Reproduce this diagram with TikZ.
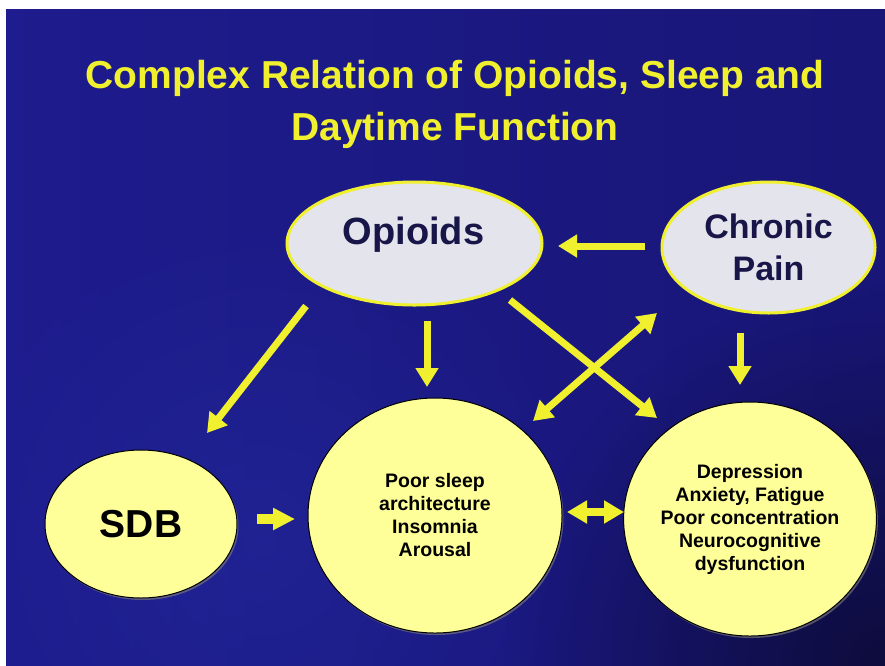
\documentclass[tikz,border=0pt]{standalone}
\usepackage{fontspec}
\setmainfont{Liberation Sans}
\usepackage{tikz}
\usetikzlibrary{arrows.meta,shapes.geometric,shadows,fadings}

\definecolor{slideyellow}{RGB}{240,240,46}
\definecolor{paleyellow}{RGB}{255,255,153}
\definecolor{ovalgrey}{RGB}{228,228,236}
\definecolor{inknavy}{RGB}{24,22,72}
\definecolor{bgleft}{RGB}{30,28,142}
\definecolor{bgright}{RGB}{24,22,118}
\definecolor{bgcorner}{RGB}{14,12,60}
\definecolor{bgglow}{RGB}{40,50,170}

\tikzfading[name=glowfade, inner color=transparent!0, outer color=transparent!100]

\tikzset{
	ovalnode/.style={ellipse, draw=slideyellow, line width=3pt, fill=ovalgrey, inner sep=0pt},
	bubblenode/.style={ellipse, draw=black, line width=1pt, fill=paleyellow, inner sep=0pt,
		drop shadow={shadow xshift=1.5pt, shadow yshift=-2pt, opacity=0.6}},
	bubbletext/.style={align=center, font=\bfseries\fontsize{19.5}{23}\selectfont},
	titletext/.style={text=slideyellow, font=\bfseries\fontsize{39}{46}\selectfont},
	yarrow/.style={draw=slideyellow, line width=7pt, -{Triangle[length=19pt,width=22pt]}},
	ydouble/.style={draw=slideyellow, line width=7pt, {Triangle[length=19pt,width=22pt]}-{Triangle[length=19pt,width=22pt]}},
	blockarrow/.style={draw=slideyellow, line width=10pt, -{Triangle[length=22pt,width=21pt]}},
	blockdouble/.style={draw=slideyellow, line width=8pt, {Triangle[length=20pt,width=22pt]}-{Triangle[length=20pt,width=22pt]}}
}

\begin{document}
\begin{tikzpicture}[x=1pt,y=-1pt]
	\useasboundingbox (0,0) rectangle (885,665);
	\fill[white] (0,0) rectangle (885,665);
	% slide background
	\begin{scope}
		\clip (6,9) rectangle (885,665);
		\shade[left color=bgleft, right color=bgright] (6,9) rectangle (885,665);
		\fill[bgglow, opacity=0.35, path fading=glowfade] (260,540) circle (330);
		\fill[bgcorner, path fading=glowfade] (885,665) circle (380);
	\end{scope}
	% title
	\node[titletext, anchor=base] (title1) at (455,88) {Complex Relation of Opioids, Sleep and};
	\node[titletext, anchor=base] (title2) at (455,140) {Daytime Function};
	% top ovals
	\node[ovalnode, minimum width=255pt, minimum height=123pt] (opioids) at (414.5,243.5) {};
	\node[anchor=base, text=inknavy, font=\bfseries\fontsize{38}{44}\selectfont] (opioidslabel) at (413.5,244) {Opioids};
	\node[ovalnode, minimum width=213pt, minimum height=131pt, align=center, text=inknavy,
		font=\bfseries\fontsize{34}{42}\selectfont] (chronic) at (768.5,247.5) {Chronic\\Pain};
	% bottom bubbles
	\node[bubblenode, minimum width=192pt, minimum height=148pt, font=\bfseries\fontsize{39}{44}\selectfont] (sdb) at (141,524) {SDB};
	\node[bubblenode, minimum width=254pt, minimum height=235pt, bubbletext] (sleep) at (435,515.5) {Poor sleep\\architecture\\Insomnia\\Arousal};
	\node[bubblenode, minimum width=238pt, minimum height=234pt, bubbletext] (mood) at (750,519) {Depression\\Anxiety, Fatigue\\Poor concentration\\Neurocognitive\\dysfunction};
	% arrows
	\draw[yarrow] ([shift={(-123.5,-1.5)}]chronic.center) -- ([shift={(143.5,2.5)}]opioids.center);
	\draw[yarrow] ([shift={(-108.5,62.5)}]opioids.center) -- ([shift={(66,-91)}]sdb.center);
	\draw[yarrow] ([shift={(12.5,77.5)}]opioids.center) -- ([shift={(-8,-128.5)}]sleep.center);
	\draw[yarrow] ([shift={(95.5,56.5)}]opioids.center) -- ([shift={(-93,-101)}]mood.center);
	\draw[ydouble] ([shift={(-111.5,65.5)}]chronic.center) -- ([shift={(98,-94.5)}]sleep.center);
	\draw[yarrow] ([shift={(-28.5,85.5)}]chronic.center) -- ([shift={(-10,-134)}]mood.center);
	\draw[blockarrow] ([shift={(116,-5)}]sdb.center) -- ([shift={(-140,3.5)}]sleep.center);
	\draw[blockdouble] ([shift={(132,-3.5)}]sleep.center) -- ([shift={(-126,-7)}]mood.center);
\end{tikzpicture}
\end{document}
